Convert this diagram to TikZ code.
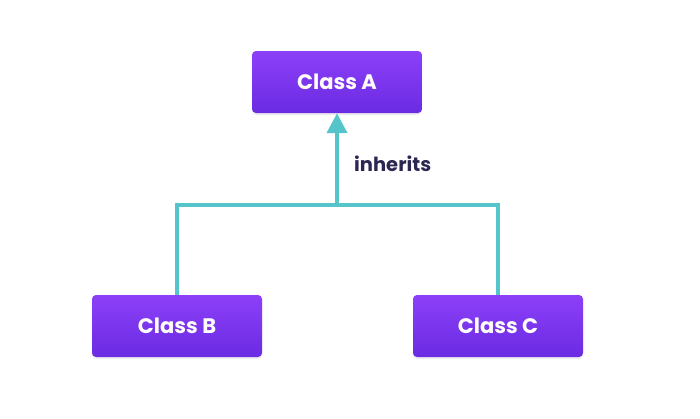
\documentclass[tikz,border=0pt]{standalone}
\usepackage{fontspec}
\setmainfont{Poppins}
\usetikzlibrary{arrows.meta,shadows}
\definecolor{boxtop}{HTML}{8C40F8}
\definecolor{boxbot}{HTML}{6A2BE2}
\definecolor{link}{HTML}{55C4CB}
\definecolor{labeltext}{HTML}{2B2752}
\tikzset{
  classbox/.style={rectangle, rounded corners=4pt, minimum width=170pt, minimum height=62pt,
    inner sep=0pt, top color=boxtop, bottom color=boxbot, draw=none,
    drop shadow={shadow xshift=0pt, shadow yshift=-2pt, opacity=0.15},
    text=white!95!pink, font=\fontsize{21}{24}\selectfont\bfseries},
  inherit/.style={draw=link, line width=4pt},
}
\begin{document}
\begin{tikzpicture}[x=1pt,y=-1pt]
\useasboundingbox (0,0) rectangle (700,418);
\node[classbox] (A) at (337,82) {Class A};
\node[classbox] (B) at (177,326) {Class B};
\node[classbox] (C) at (498,326) {Class C};
\coordinate (join) at (337,205);

\draw[inherit] (B.north) |- (join) -| (C.north);
\draw[inherit, -{Triangle[width=20pt,length=20pt]}] (join) -- (A.south);
\node[text=labeltext, font=\fontsize{19.5}{22}\selectfont\bfseries, anchor=west, inner sep=0pt] (lbl) at (354,164) {inherits};
\end{tikzpicture}
\end{document}
